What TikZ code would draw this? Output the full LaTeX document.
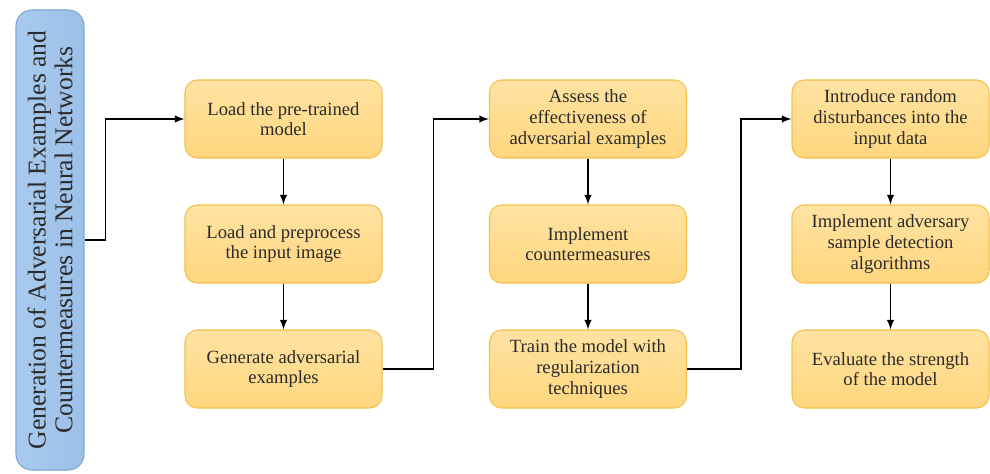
\documentclass[tikz,border=0pt]{standalone}
\usepackage{fontspec}
\setmainfont{Liberation Serif}
\usepackage{xcolor}
\usetikzlibrary{shapes,arrows,positioning,calc}
\definecolor{stepfill}{HTML}{FFD67E}
\definecolor{steptop}{HTML}{FFE3A2}
\definecolor{stepline}{HTML}{F4C04A}
\definecolor{titlefill}{HTML}{9DC0E8}
\definecolor{titletop}{HTML}{A9CAEE}
\definecolor{titleline}{HTML}{7FA6D6}
\definecolor{textgray}{HTML}{2B2B2B}

\tikzset{
  stepbox/.style={draw=stepline,line width=0.6pt,rounded corners=7pt,
    top color=steptop,bottom color=stepfill,minimum width=3.94cm,minimum height=1.56cm,
    align=center,font=\fontsize{10.6}{11.8}\selectfont,text=textgray,inner sep=2pt},
  titlebox/.style={draw=titleline,line width=0.6pt,rounded corners=9pt,
    left color=titletop,right color=titlefill,minimum width=1.36cm,minimum height=9.2cm},
  flow/.style={-latex,line width=0.9pt,black}
}

\begin{document}
\begin{tikzpicture}
  \useasboundingbox (0,0) rectangle (19.8,9.46);

  % Title bar
  \node[titlebox] (title) at (1.0,4.66) {};
  \node[rotate=90,align=center,text=textgray,font=\fontsize{14.6}{15.2}\selectfont] (titletext) at (title.center)
    {Generation of Adversarial Examples and\\Countermeasures in Neural Networks};

  % First column
  \node[stepbox] (load) at (5.67,7.08) {Load the pre-trained\\model};
  \node[stepbox] (prep) at (5.67,4.58) {Load and preprocess\\the input image};
  \node[stepbox] (gen) at (5.67,2.08) {Generate adversarial\\examples};

  % Second column
  \node[stepbox] (assess) at (11.76,7.08) {Assess the\\effectiveness of\\adversarial examples};
  \node[stepbox] (counter) at (11.76,4.58) {Implement\\countermeasures};
  \node[stepbox] (train) at (11.76,2.08) {Train the model with\\regularization\\techniques};

  % Third column
  \node[stepbox] (noise) at (17.81,7.08) {Introduce random\\disturbances into the\\input data};
  \node[stepbox] (detect) at (17.81,4.58) {Implement adversary\\sample detection\\algorithms};
  \node[stepbox] (robust) at (17.81,2.08) {Evaluate the strength\\of the model};

  % Connectors
  \draw[flow] (title.east) -- ++(0.42,0) |- (load.west);
  \draw[flow] (load) -- (prep);
  \draw[flow] (prep) -- (gen);
  \draw[flow] (gen.east) -- ++(1.02,0) |- (assess.west);
  \draw[flow] (assess) -- (counter);
  \draw[flow] (counter) -- (train);
  \draw[flow] (train.east) -- ++(1.08,0) |- (noise.west);
  \draw[flow] (noise) -- (detect);
  \draw[flow] (detect) -- (robust);
\end{tikzpicture}
\end{document}
